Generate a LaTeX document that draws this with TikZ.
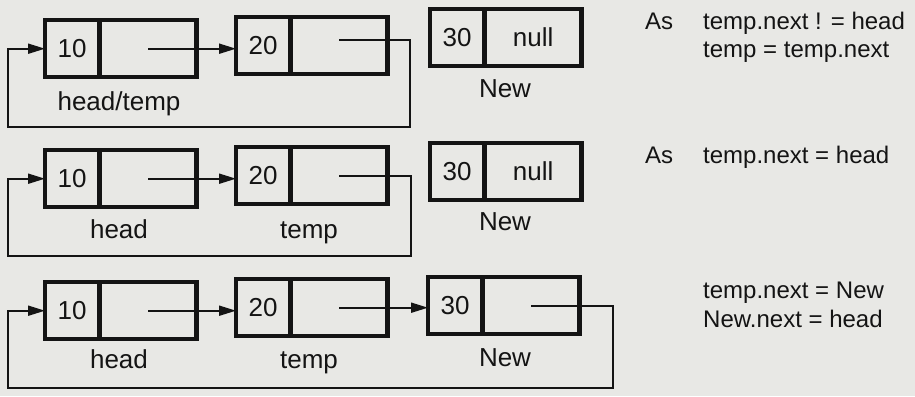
\documentclass[tikz,border=0pt]{standalone}
\usepackage{fontspec}
\setmainfont{Liberation Sans}
\usetikzlibrary{arrows.meta,calc}

\definecolor{paper}{RGB}{232,232,229}
\definecolor{ink}{RGB}{20,20,20}

\tikzset{
  every node/.style={font=\fontsize{24}{28}\selectfont, text=ink, inner sep=0pt},
  dcell/.style={draw=ink, line width=2.4pt, minimum width=52pt, minimum height=55pt, anchor=north west, font=\fontsize{26}{30}\selectfont},
  pcell/.style={draw=ink, line width=2.4pt, minimum width=95pt, minimum height=55pt, anchor=west, font=\fontsize{26}{30}\selectfont},
  frame/.style={draw=ink, line width=3.8pt},
  link/.style={draw=ink, line width=1.9pt},
  arr/.style={link, -{Triangle[length=17pt,width=10pt]}},
  lbl/.style={anchor=base, font=\fontsize{26}{30}\selectfont},
  note/.style={anchor=base west},
}

\newcommand{\listnode}[4]{% name, position, data, pointer text
  \node[dcell] (#1) at #2 {#3};
  \node[pcell] (#1p) at (#1.east) {#4};
  \draw[frame] (#1.north west) rectangle (#1p.south east);
}

\begin{document}
\begin{tikzpicture}[x=1pt,y=-1pt]
  \fill[paper] (0,0) rectangle (915,396);
  \useasboundingbox (0,0) rectangle (915,396);

  % ---- first state: temp walks forward ----
  \listnode{a1}{(45,20)}{10}{}
  \listnode{b1}{(236,17)}{20}{}
  \listnode{c1}{(430,9)}{30}{null}
  \draw[arr] (a1p.center) -- (a1p.center -| b1.west);
  \coordinate (r1) at (410,127);
  \coordinate (l1) at (8,127);
  \draw[arr] ($(b1p.center)+(0,-6)$) -| (r1) -- (l1) |- (a1.west);
  \node[lbl] (t1a) at (119,110) {head/temp};
  \node[lbl] (t1b) at (505,97) {New};
  \node[note] (n1a) at (645,30) {As};
  \node[note] (n1b) at (703,30) {temp.next ! = head};
  \node[note] (n1c) at (703,58) {temp = temp.next};

  % ---- second state: temp reaches the last node ----
  \listnode{a2}{(45,150)}{10}{}
  \listnode{b2}{(236,147)}{20}{}
  \listnode{c2}{(430,143)}{30}{null}
  \draw[arr] (a2p.center) -- (a2p.center -| b2.west);
  \coordinate (r2) at (411,256);
  \coordinate (l2) at (8,256);
  \draw[arr] (b2p.center) -| (r2) -- (l2) |- (a2.west);
  \node[lbl] (t2a) at (119,238) {head};
  \node[lbl] (t2b) at (309,238) {temp};
  \node[lbl] (t2c) at (505,230) {New};
  \node[note] (n2a) at (645,163) {As};
  \node[note] (n2b) at (703,163) {temp.next = head};

  % ---- third state: New linked in ----
  \listnode{a3}{(45,282)}{10}{}
  \listnode{b3}{(236,279)}{20}{}
  \listnode{c3}{(428,277)}{30}{}
  \draw[arr] (a3p.center) -- (a3p.center -| b3.west);
  \draw[arr] (b3p.center) -- (b3p.center -| c3.west);
  \coordinate (r3) at (613,388);
  \coordinate (l3) at (8,388);
  \draw[arr] (c3p.center) -| (r3) -- (l3) |- (a3.west);
  \node[lbl] (t3a) at (119,368) {head};
  \node[lbl] (t3b) at (309,368) {temp};
  \node[lbl] (t3c) at (505,366) {New};
  \node[note] (n3a) at (703,298) {temp.next = New};
  \node[note] (n3b) at (703,327) {New.next = head};
\end{tikzpicture}
\end{document}
